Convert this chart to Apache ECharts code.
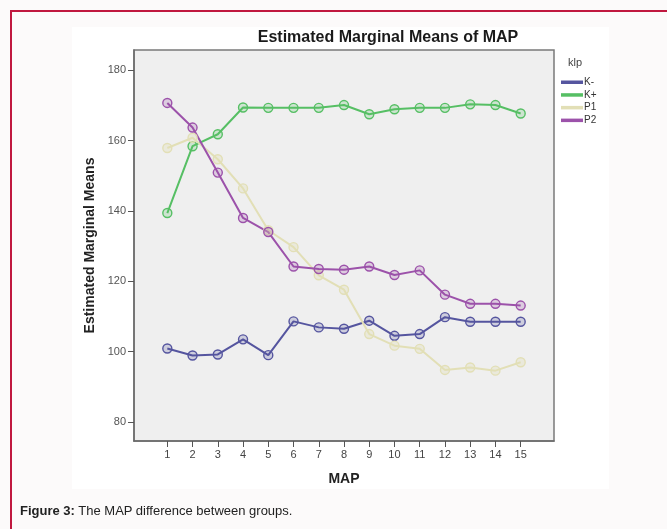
<!DOCTYPE html>
<html>
<head>
<meta charset="utf-8">
<script src="https://cdn.jsdelivr.net/npm/echarts@6/dist/echarts.min.js"></script>
<style>
  html, body { margin: 0; padding: 0; }
  body { width: 667px; height: 529px; background: #fcfafa; position: relative; overflow: hidden;
         font-family: "Liberation Sans", Arial, sans-serif; }
  #frameTop { position: absolute; left: 10px; top: 10px; width: 657px; height: 2px; background: #c0183f; }
  #frameLeft { position: absolute; left: 10px; top: 10px; width: 2px; height: 519px; background: #c0183f; }
  #panel { position: absolute; left: 72px; top: 27px; width: 537px; height: 462px; background: #ffffff; }
  #chart { position: absolute; left: 0; top: 0; width: 667px; height: 529px; }
  #caption { position: absolute; left: 20px; top: 503px; font-size: 13px; color: #222; white-space: nowrap; }
  #caption b { font-weight: bold; }
</style>
</head>
<body>
<div id="frameTop"></div>
<div id="frameLeft"></div>
<div id="panel"></div>
<div id="chart"></div>
<div id="caption"><b>Figure 3:</b> The MAP difference between groups.</div>
<script>
// MAP measurement occasions
const mapPoints = [1, 2, 3, 4, 5, 6, 7, 8, 9, 10, 11, 12, 13, 14, 15];
const yTicks = [80, 100, 120, 140, 160, 180];

// estimated marginal means per klp group
const kMinus = [100.9, 98.9, 99.2, 103.5, 99.0, 108.6, 106.9, 106.5, 108.8, 104.5, 105.0, 109.8, 108.5, 108.5, 108.5];
const kPlus  = [139.4, 158.4, 161.8, 169.4, 169.3, 169.3, 169.3, 170.1, 167.5, 168.9, 169.3, 169.3, 170.3, 170.1, 167.7];
const p1     = [157.9, 160.8, 154.7, 146.4, 134.5, 129.7, 121.7, 117.6, 105.0, 101.7, 100.8, 94.8, 95.5, 94.6, 97.0];
const p2     = [170.7, 163.7, 150.9, 138.0, 134.0, 124.2, 123.5, 123.3, 124.2, 121.8, 123.1, 116.2, 113.6, 113.6, 113.1];

const groups = [
  { name: 'K-', values: kMinus, color: '#55559f', fill: 'rgba(85,85,159,0.22)' },
  { name: 'K+', values: kPlus,  color: '#56bf64', fill: 'rgba(86,191,100,0.22)' },
  { name: 'P1', values: p1,     color: '#e2dfb6', fill: 'rgba(226,223,182,0.35)' },
  { name: 'P2', values: p2,     color: '#9c52aa', fill: 'rgba(156,82,170,0.22)' }
];

const font = '"Liberation Sans", Arial, sans-serif';
const chart = echarts.init(document.getElementById('chart'), null, { renderer: 'canvas' });

chart.setOption({
  animation: false,
  textStyle: { fontFamily: font },
  grid: {
    left: 134, top: 50, right: 113, bottom: 88,
    show: true, backgroundColor: '#efefef', borderColor: '#7a7a7a', borderWidth: 1.5
  },
  graphic: [
    { type: 'text', x: 388, y: 30, style: { text: 'Estimated Marginal Means of MAP', font: 'bold 16px ' + font, fill: '#1a1a1a', align: 'center' } },
    { type: 'text', x: 575, y: 57, style: { text: 'klp', font: '11px ' + font, fill: '#444', align: 'center' } }
  ],
  legend: {
    orient: 'vertical', left: 556, top: 72,
    itemWidth: 20, itemHeight: 1.5, itemGap: 2.2,
    icon: 'rect',
    textStyle: { fontSize: 10, color: '#333', fontFamily: font, padding: [0, 0, 0, -3], lineHeight: 10.5 },
    data: groups.map(g => ({ name: g.name, itemStyle: { color: g.color } }))
  },
  xAxis: {
    type: 'value', min: -0.32, max: 16.32,
    name: 'MAP', nameLocation: 'middle', nameGap: 31,
    nameTextStyle: { fontWeight: 'bold', fontSize: 14, color: '#222' },
    axisLine: { show: true, onZero: false, lineStyle: { color: '#6a6a6a', width: 1.5 } },
    axisTick: { show: true, customValues: mapPoints, length: 6, lineStyle: { color: '#555' } },
    axisLabel: { customValues: mapPoints, fontSize: 11, color: '#444', margin: 8 },
    splitLine: { show: false }
  },
  yAxis: {
    type: 'value', min: 74.6, max: 185.75,
    name: 'Estimated Marginal Means', nameLocation: 'middle', nameGap: 37, nameRotate: 90,
    nameTextStyle: { fontWeight: 'bold', fontSize: 14, color: '#222' },
    axisLine: { show: true, onZero: false, lineStyle: { color: '#6a6a6a', width: 1.5 } },
    axisTick: { show: true, customValues: yTicks, length: 6, lineStyle: { color: '#555' } },
    axisLabel: { customValues: yTicks, fontSize: 11, color: '#555', margin: 8 },
    splitLine: { show: false }
  },
  series: groups.map(g => ({
    name: g.name,
    type: 'line',
    data: g.values.map((v, i) => [mapPoints[i], v]),
    symbol: 'circle',
    symbolSize: 9,
    lineStyle: { color: g.color, width: 2 },
    itemStyle: { color: g.fill, borderColor: g.color, borderWidth: 1.4 },
    emphasis: { disabled: true }
  }))
});
</script>
</body>
</html>
